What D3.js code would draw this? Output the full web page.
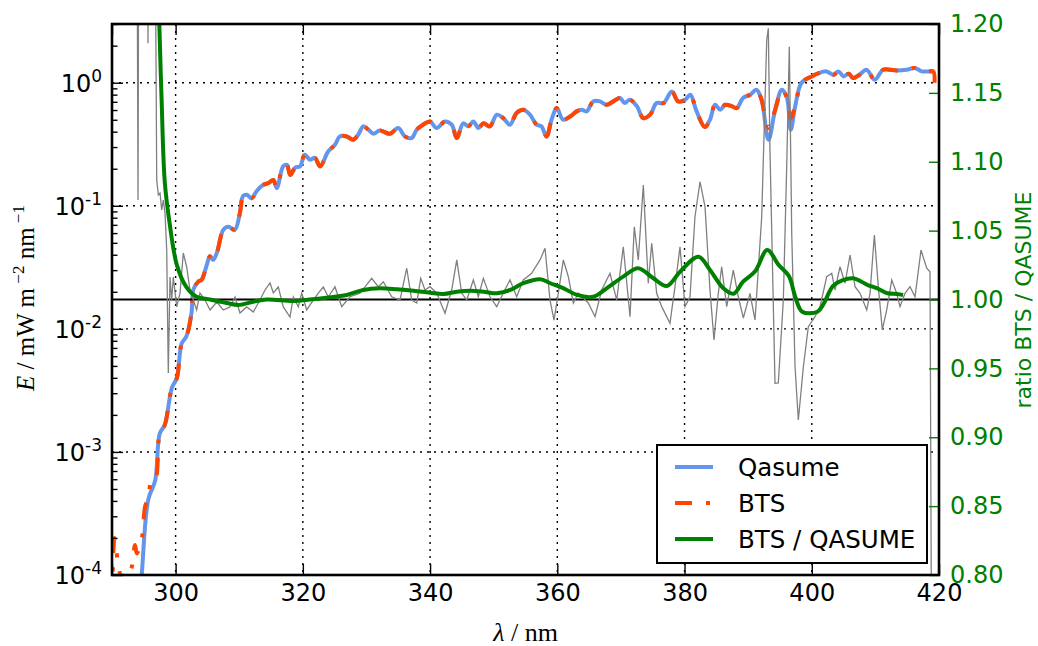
<!DOCTYPE html>
<html><head><meta charset="utf-8">
<script src="https://cdn.jsdelivr.net/npm/d3@7"></script>
<style>body{margin:0;background:#fff} svg{display:block}</style>
</head><body><svg id="chart" width="1038" height="646"></svg>
<script>
// ---------- data ----------
const wavelengthTicks = [290, 300, 320, 340, 360, 380, 400, 420];
const wavelengthLabels = [300, 320, 340, 360, 380, 400, 420];
const gridWavelengths = [300, 320, 340, 360, 380, 400];
const irradianceDecades = [1e-4, 1e-3, 1e-2, 1e-1, 1e0];
const decadeExponents = ["-4", "-3", "-2", "-1", "0"];
const ratioTicks = [0.80, 0.85, 0.90, 0.95, 1.00, 1.05, 1.10, 1.15, 1.20];
const seriesNames = ["Qasume", "BTS", "BTS / QASUME"];

const qasumeWl = [294.2, 294.7, 295.7, 296.8, 297.5, 298.3, 299.4, 300.2, 300.95, 301.7,
 302.5, 302.8, 303.6, 304.1, 304.9, 305.4, 305.9, 306.5, 307.5, 308.3,
 309.3, 310.1, 310.6, 311.2, 311.95, 312.75, 313.8, 314.6, 315.35, 315.9,
 316.9, 317.5, 318.0, 318.8, 319.55, 320.3, 321.1, 321.9, 322.7, 324.0,
 325.05, 325.8, 326.9, 327.9, 328.7, 329.5, 330.3, 331.1, 332.1, 333.7,
 335.0, 336.05, 337.1, 337.9, 338.9, 340.0, 341.0, 342.35, 343.4, 344.2,
 345.2, 346.0, 346.8, 347.6, 348.4, 349.4, 350.5, 351.5, 352.55, 353.6,
 354.65, 355.7, 356.75, 357.5, 358.3, 359.1, 359.9, 360.9, 362.0, 363.05,
 363.8, 364.6, 365.65, 366.7, 367.75, 368.8, 369.85, 370.6, 371.4, 372.5,
 373.5, 374.6, 375.6, 376.7, 378.0, 379.0, 380.1, 380.9, 381.9, 383.2,
 384.0, 384.8, 385.6, 386.4, 387.4, 388.2, 389.2, 390.3, 391.3, 392.1,
 393.2, 394.25, 395.3, 396.1, 396.7, 397.4, 398.4, 400.0, 401.0, 402.3,
 403.4, 404.2, 405.0, 405.8, 406.5, 407.5, 408.6, 409.9, 411.2, 412.3,
 413.3, 414.9, 416.2, 417.3, 418.3, 419.1];
const qasumeE = [0.00005, 0.000105, 0.00041, 0.00059, 0.00141, 0.00166, 0.0033, 0.0040, 0.0076, 0.0087,
 0.0135, 0.0209, 0.0243, 0.0251, 0.0331, 0.0389, 0.0363, 0.0417, 0.0638, 0.0676,
 0.0638, 0.0871, 0.120, 0.123, 0.115, 0.132, 0.148, 0.153, 0.162, 0.139,
 0.209, 0.215, 0.178, 0.204, 0.209, 0.260, 0.237, 0.245, 0.209, 0.277,
 0.313, 0.366, 0.366, 0.344, 0.378, 0.442, 0.415, 0.385, 0.409, 0.385,
 0.429, 0.366, 0.355, 0.415, 0.456, 0.484, 0.429, 0.484, 0.456, 0.355,
 0.468, 0.442, 0.484, 0.429, 0.468, 0.442, 0.550, 0.516, 0.456, 0.568,
 0.603, 0.550, 0.456, 0.442, 0.366, 0.501, 0.622, 0.501, 0.532, 0.585,
 0.603, 0.585, 0.705, 0.705, 0.662, 0.705, 0.752, 0.684, 0.728, 0.646,
 0.516, 0.550, 0.684, 0.684, 0.849, 0.705, 0.728, 0.798, 0.585, 0.437,
 0.501, 0.662, 0.603, 0.662, 0.646, 0.622, 0.752, 0.798, 0.877, 0.728,
 0.344, 0.603, 0.877, 0.752, 0.415, 0.646, 1.00, 1.125, 1.19, 1.236,
 1.161, 1.236, 1.125, 1.183, 1.091, 1.161, 1.276, 1.057, 1.276, 1.276,
 1.259, 1.276, 1.318, 1.236, 1.236, 1.236];

const btsWl = [290.0, 290.4, 290.9, 291.6, 292.2, 292.9, 293.6, 293.9, 294.7, 295.2, 295.7, 296.2,
 296.8, 297.5, 298.3, 299.4, 300.2, 300.95, 301.7,
 302.5, 302.8, 303.6, 304.1, 304.9, 305.4, 305.9, 306.5, 307.5, 308.3,
 309.3, 310.1, 310.6, 311.2, 311.95, 312.75, 313.8, 314.6, 315.35, 315.9,
 316.9, 317.5, 318.0, 318.8, 319.55, 320.3, 321.1, 321.9, 322.7, 324.0,
 325.05, 325.8, 326.9, 327.9, 328.7, 329.5, 330.3, 331.1, 332.1, 333.7,
 335.0, 336.05, 337.1, 337.9, 338.9, 340.0, 341.0, 342.35, 343.4, 344.2,
 345.2, 346.0, 346.8, 347.6, 348.4, 349.4, 350.5, 351.5, 352.55, 353.6,
 354.65, 355.7, 356.75, 357.5, 358.3, 359.1, 359.9, 360.9, 362.0, 363.05,
 363.8, 364.6, 365.65, 366.7, 367.75, 368.8, 369.85, 370.6, 371.4, 372.5,
 373.5, 374.6, 375.6, 376.7, 378.0, 379.0, 380.1, 380.9, 381.9, 383.2,
 384.0, 384.8, 385.6, 386.4, 387.4, 388.2, 389.2, 390.3, 391.3, 392.1,
 393.2, 394.25, 395.3, 396.1, 396.7, 397.4, 398.4, 400.0, 401.0, 402.3,
 403.4, 404.2, 405.0, 405.8, 406.5, 407.5, 408.6, 409.9, 411.2, 412.3,
 413.3, 414.9, 416.2, 417.3, 418.3, 419.1, 419.3];
const btsE = [0.00006, 0.00020, 0.00013, 0.00009, 0.000115, 0.00011, 0.000175, 0.00015, 0.00020, 0.00036, 0.00042, 0.00058,
 0.00059, 0.00141, 0.00166, 0.0033, 0.0040, 0.0076, 0.0087,
 0.0135, 0.0209, 0.0243, 0.0251, 0.0331, 0.0389, 0.0363, 0.0417, 0.0638, 0.0676,
 0.0638, 0.0871, 0.120, 0.123, 0.115, 0.132, 0.148, 0.153, 0.162, 0.139,
 0.209, 0.215, 0.178, 0.204, 0.209, 0.260, 0.237, 0.245, 0.209, 0.277,
 0.313, 0.366, 0.366, 0.344, 0.378, 0.442, 0.415, 0.385, 0.409, 0.385,
 0.429, 0.366, 0.355, 0.415, 0.456, 0.484, 0.429, 0.484, 0.456, 0.355,
 0.468, 0.442, 0.484, 0.429, 0.468, 0.442, 0.550, 0.516, 0.456, 0.568,
 0.603, 0.550, 0.456, 0.442, 0.366, 0.501, 0.622, 0.501, 0.532, 0.585,
 0.603, 0.585, 0.705, 0.705, 0.662, 0.705, 0.752, 0.684, 0.728, 0.646,
 0.516, 0.550, 0.684, 0.684, 0.849, 0.705, 0.728, 0.798, 0.585, 0.437,
 0.501, 0.662, 0.603, 0.662, 0.646, 0.622, 0.752, 0.798, 0.877, 0.728,
 0.429, 0.603, 0.877, 0.752, 0.516, 0.646, 1.00, 1.125, 1.19, 1.236,
 1.161, 1.236, 1.125, 1.183, 1.091, 1.161, 1.276, 1.057, 1.276, 1.276,
 1.259, 1.276, 1.318, 1.236, 1.236, 1.236, 1.00];

const rawRatioWl = [293.77, 294.09, 294.32, 295.5, 295.66, 295.82, 296.76, 297.03, 297.28, 297.55,
 297.81, 298.06, 298.33, 298.6, 298.85, 299.12, 299.38, 299.64, 300.17, 300.69,
 301.21, 301.74, 302.26, 302.78, 303.31, 303.83, 304.62, 305.41, 306.46, 307.5,
 308.55, 309.34, 310.12, 311.17, 312.21, 313.26, 314.05, 314.84, 315.36, 316.14,
 316.93, 317.98, 318.5, 319.29, 319.82, 320.6, 321.64, 322.43, 323.22, 324.0,
 325.05, 326.11, 327.41, 328.98, 330.82, 331.86, 332.65, 333.97, 335.27, 336.33,
 337.11, 337.9, 338.53, 339.2, 339.99, 341.04, 342.35, 343.4, 344.19, 344.97,
 345.76, 346.8, 347.58, 348.37, 349.42, 350.47, 351.51, 352.56, 353.62, 354.65,
 355.97, 357.28, 358.07, 358.85, 359.48, 360.16, 360.95, 361.73, 362.52, 363.3,
 364.87, 365.93, 366.98, 368.28, 369.34, 370.37, 371.43, 372.1, 372.73, 373.52,
 374.3, 374.84, 375.62, 376.41, 377.71, 378.5, 379.29, 380.07, 380.86, 381.64,
 382.43, 383.22, 384.0, 384.63, 385.31, 385.84, 386.63, 387.67, 388.45, 389.24,
 390.29, 391.08, 392.13, 392.92, 393.17, 393.43, 394.22, 394.74, 395.53, 396.06,
 396.47, 396.85, 397.37, 397.89, 398.68, 399.46, 400.51, 401.3, 402.35, 403.14,
 403.66, 404.44, 405.23, 406.02, 406.8, 407.59, 408.64, 409.16, 409.84, 410.46,
 411.09, 411.78, 412.57, 413.35, 413.87, 414.66, 415.44, 416.23, 417.17, 418.07,
 418.59, 418.82];
const rawRatio = [1.5, 1.0722, 1.5, 1.4, 1.186, 1.4, 1.3, 1.0868, 1.0759, 1.0773,
 1.065, 1.0722, 1.0628, 1.036, 0.9466, 1.0163, 0.9996, 1.0163, 0.9946, 1.0047,
 1.0338, 1.0236, 1.0069, 0.9996, 0.9924, 1.0047, 0.9996, 0.9924, 0.9982, 0.9924,
 0.9946, 1.0018, 0.9902, 0.9946, 0.9909, 0.9996, 1.0069, 1.012, 1.0047, 1.0091,
 0.9946, 0.9873, 1.0018, 0.9946, 1.0047, 0.9924, 0.9996, 1.0047, 1.0091, 1.0018,
 1.0093, 0.9948, 1.002, 1.0045, 1.0154, 1.0093, 1.0129, 1.002, 0.9996, 1.0227,
 0.9996, 0.9975, 1.0154, 1.0069, 1.0093, 1.0047, 0.99, 1.0069, 1.0287, 1.0047,
 0.9996, 1.0142, 1.002, 1.0154, 1.002, 0.9948, 1.0047, 1.0142, 1.002, 1.0142,
 1.019, 1.0287, 1.0372, 0.9996, 0.9851, 1.0047, 1.0287, 1.0166, 0.9975, 1.0047,
 0.9975, 0.9875, 1.0069, 1.019, 0.9996, 1.0383, 0.9875, 1.0528, 1.0287, 1.0831,
 1.0118, 1.0408, 1.0045, 0.9948, 0.9827, 1.0093, 1.0383, 0.9948, 1.002, 1.0601,
 1.0855, 1.0674, 1.0069, 0.9706, 1.0045, 1.0238, 0.9948, 1.0214, 1.002, 0.9866,
 1.0045, 0.9851, 1.0601, 1.1884, 1.1969, 1.1085, 0.9392, 0.9394, 0.9996, 1.0964,
 1.1835, 1.0483, 0.9512, 0.9125, 0.9512, 0.9803, 0.9875, 0.9948, 1.0166, 1.019,
 1.0069, 1.0238, 1.0118, 1.0323, 1.0093, 1.0045, 0.9924, 1.0045, 1.0468, 1.0093,
 0.9779, 0.9924, 1.0142, 1.0045, 0.9948, 1.0045, 1.0093, 1.002, 1.0359, 1.0227,
 1.0202, 0.75];

const smoothWl = [296.9, 297.44, 297.8, 298.3, 299.1, 300.2, 301.7, 303.3, 305.4, 308.0,
 309.85, 312.2, 314.3, 318.5, 321.1, 323.7, 326.9, 329.5, 332.1, 334.8,
 337.4, 340.0, 342.1, 344.2, 346.3, 348.4, 350.5, 352.6, 354.65, 357.3,
 358.9, 361.0, 363.1, 365.65, 367.75, 370.35, 372.7, 375.1, 377.2, 379.3,
 382.2, 384.0, 386.1, 387.7, 389.2, 391.1, 393.0, 394.8, 396.4, 397.4,
 398.5, 400.9, 401.9, 403.5, 406.4, 408.8, 410.3, 411.9, 413.4, 414.35];
const smoothRatio = [1.30, 1.20, 1.145, 1.085, 1.054, 1.025, 1.009, 1.002, 1.000, 0.9975,
 0.996, 0.9984, 1.000, 0.999, 1.000, 1.0013, 1.0033, 1.0069, 1.0081, 1.0074,
 1.0064, 1.0049, 1.004, 1.0057, 1.0064, 1.0057, 1.0045, 1.0069, 1.0118, 1.0147,
 1.0118, 1.0081, 1.0033, 1.002, 1.0081, 1.0166, 1.0227, 1.0154, 1.0098, 1.0202,
 1.0311, 1.0214, 1.0081, 1.0042, 1.0129, 1.0205, 1.0359, 1.025, 1.017, 1.002,
 0.9911, 0.9911, 0.9972, 1.0105, 1.0154, 1.0105, 1.0081, 1.0045, 1.004, 1.0033];
const referenceRatio = 1.0;

// ---------- layout ----------
const P = {left: 112, right: 939, top: 24, bottom: 575};
const svg = d3.select("#chart");
const x = d3.scaleLinear().domain([290, 420]).range([P.left, P.right]);
const y = d3.scaleLog().domain([1e-4, 3]).range([P.bottom, P.top]);
const yr = d3.scaleLinear().domain([0.8, 1.2]).range([P.bottom, P.top]);

const zip = (a, b) => d3.range(Math.min(a.length, b.length)).map(i => [a[i], b[i]]);
const qasume = zip(qasumeWl, qasumeE);
const bts = zip(btsWl, btsE);
const raw = zip(rawRatioWl, rawRatio);
const smooth = zip(smoothWl, smoothRatio);

svg.append("defs").append("clipPath").attr("id", "plotclip")
  .append("rect").attr("x", P.left).attr("y", P.top)
  .attr("width", P.right - P.left).attr("height", P.bottom - P.top);

const SANS = "'DejaVu Sans', sans-serif";
const SERIF = "'Liberation Serif', 'DejaVu Serif', serif";
const COL = {blue: "#6495ED", orange: "#FF4500", green: "#008000", gray: "#808080"};

// grid
const grid = svg.append("g").attr("stroke", "#000").attr("stroke-width", 1.4)
  .attr("stroke-dasharray", "2,5");
grid.selectAll(".gx").data(gridWavelengths).join("line")
  .attr("x1", d => x(d)).attr("x2", d => x(d)).attr("y1", P.top).attr("y2", P.bottom);
grid.selectAll(".gy").data(irradianceDecades.slice(1)).join("line")
  .attr("x1", P.left).attr("x2", P.right).attr("y1", d => y(d)).attr("y2", d => y(d));

// data
const plot = svg.append("g").attr("clip-path", "url(#plotclip)");
const lineE = d3.line().x(d => x(d[0])).y(d => y(d[1])).curve(d3.curveCatmullRom.alpha(0.5));
const lineR = d3.line().x(d => x(d[0])).y(d => yr(d[1]));
plot.append("path").datum(qasume).attr("d", lineE).attr("fill", "none")
  .attr("stroke", COL.blue).attr("stroke-width", 4);
plot.append("path").datum(bts).attr("d", lineE).attr("fill", "none")
  .attr("stroke", COL.orange).attr("stroke-width", 4).attr("stroke-dasharray", "17,14,4,14");
plot.append("line").attr("x1", P.left).attr("x2", P.right)
  .attr("y1", yr(referenceRatio)).attr("y2", yr(referenceRatio))
  .attr("stroke", "#000").attr("stroke-width", 2);
plot.append("path").datum(raw).attr("d", lineR).attr("fill", "none")
  .attr("stroke", COL.gray).attr("stroke-width", 1.3);
plot.append("path").datum(smooth).attr("d", lineR.curve(d3.curveCatmullRom.alpha(0.5)))
  .attr("fill", "none").attr("stroke", COL.green).attr("stroke-width", 4);

// axes (ticks inward)
function styleAxis(g, color) {
  g.select(".domain").remove();
  g.selectAll(".tick line").attr("stroke", color).attr("stroke-width", 1.4);
  g.selectAll(".tick text").attr("fill", color).attr("font-family", SANS).attr("font-size", 24);
}
const xb = svg.append("g").attr("transform", `translate(0,${P.bottom})`)
  .call(d3.axisBottom(x).tickValues(wavelengthTicks).tickSizeInner(-11).tickSizeOuter(0).tickPadding(9)
    .tickFormat(d => wavelengthLabels.includes(d) ? d3.format("d")(d) : ""));
styleAxis(xb, "#000");
const xt = svg.append("g").attr("transform", `translate(0,${P.top})`)
  .call(d3.axisTop(x).tickValues(wavelengthTicks).tickSizeInner(-11).tickSizeOuter(0).tickFormat(""));
styleAxis(xt, "#000");

const minorE = [];
irradianceDecades.slice(0, -1).forEach(d => { for (let k = 2; k <= 9; k++) minorE.push(d * k); });
[2,3].forEach(k => minorE.push(k));
const yl = svg.append("g").attr("transform", `translate(${P.left},0)`)
  .call(d3.axisLeft(y).tickValues(irradianceDecades).tickSizeInner(-11).tickSizeOuter(0).tickFormat(""));
styleAxis(yl, "#000");
const ylm = svg.append("g").attr("transform", `translate(${P.left},0)`)
  .call(d3.axisLeft(y).tickValues(minorE).tickSizeInner(-5.5).tickSizeOuter(0).tickFormat(""));
styleAxis(ylm, "#000");

// left tick labels 10^n
const yLab = svg.append("g").attr("font-family", SANS).attr("fill", "#000");
irradianceDecades.forEach((d, i) => {
  const t = yLab.append("text").attr("x", 102).attr("y", y(d) + 9).attr("text-anchor", "end");
  t.append("tspan").attr("font-size", 24).text("10");
  t.append("tspan").attr("font-size", 17).attr("dy", -10).text(decadeExponents[i]);
});

const yrAxis = svg.append("g").attr("transform", `translate(${P.right},0)`)
  .call(d3.axisRight(yr).tickValues(ratioTicks).tickSizeInner(-10).tickSizeOuter(0).tickPadding(11).tickFormat(d3.format(".2f")));
styleAxis(yrAxis, COL.green);

// frame
svg.append("rect").attr("x", P.left).attr("y", P.top)
  .attr("width", P.right - P.left).attr("height", P.bottom - P.top)
  .attr("fill", "none").attr("stroke", "#000").attr("stroke-width", 2.6);

// axis titles
const xl = svg.append("text").attr("x", (P.left + P.right) / 2).attr("y", 641)
  .attr("text-anchor", "middle").attr("font-family", SERIF).attr("font-size", 26);
xl.append("tspan").attr("font-style", "italic").text("λ");
xl.append("tspan").text(" / nm");

const ylab = svg.append("text").attr("transform", `translate(34,298) rotate(-90)`)
  .attr("text-anchor", "middle").attr("font-family", SERIF).attr("font-size", 25);
ylab.append("tspan").attr("font-style", "italic").text("E");
ylab.append("tspan").text(" / mW m");
ylab.append("tspan").attr("font-size", 17).attr("dy", -10).text(" −2");
ylab.append("tspan").attr("dy", 10).text(" nm");
ylab.append("tspan").attr("font-size", 17).attr("dy", -10).text(" −1");

svg.append("text").attr("transform", `translate(1031,300) rotate(-90)`)
  .attr("text-anchor", "middle").attr("font-family", SANS).attr("font-size", 22)
  .attr("fill", COL.green).text("ratio BTS / QASUME");

// legend
const lg = svg.append("g");
lg.append("rect").attr("x", 657).attr("y", 445).attr("width", 270).attr("height", 118)
  .attr("fill", "#fff").attr("stroke", "#000").attr("stroke-width", 2);
const legendStyles = [
  {c: COL.blue, dash: null},
  {c: COL.orange, dash: "17,14,4,14"},
  {c: COL.green, dash: null}
];
seriesNames.forEach((name, i) => {
  const yy = 467 + i * 36;
  const ln = lg.append("line").attr("x1", 675).attr("x2", 713).attr("y1", yy).attr("y2", yy)
    .attr("stroke", legendStyles[i].c).attr("stroke-width", 4);
  if (legendStyles[i].dash) ln.attr("stroke-dasharray", legendStyles[i].dash);
  lg.append("text").attr("x", 738).attr("y", yy + 9).attr("font-family", SANS)
    .attr("font-size", 24.5).attr("fill", "#000").text(name);
});
</script></body></html>
